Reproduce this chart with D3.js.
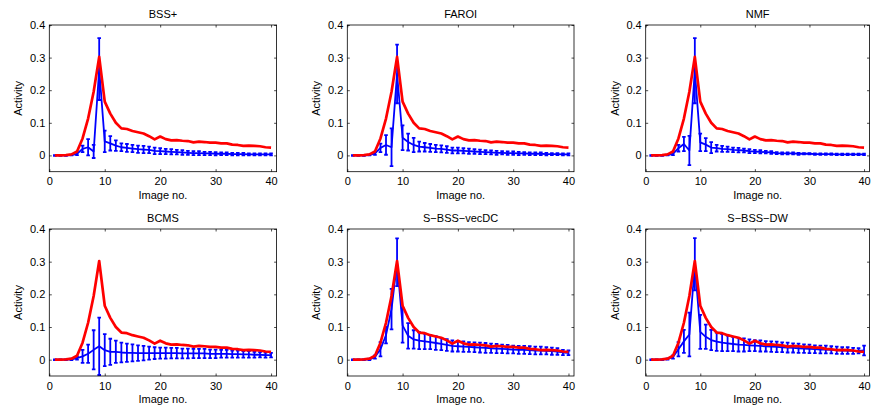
<!DOCTYPE html>
<html>
<head>
<meta charset="utf-8">
<script src="https://cdn.jsdelivr.net/npm/d3@7"></script>
<style>
  body { margin: 0; background: #fff; }
  svg text { font-family: "Liberation Sans", Arial, Helvetica, sans-serif; fill: #000; }
</style>
</head>
<body>
<svg id="chart" width="873" height="410"></svg>
<script>
// image index on the x axis
const imageNo = [1, 2, 3, 4, 5, 6, 7, 8, 9, 10, 11, 12, 13, 14, 15, 16, 17, 18, 19, 20,
    21, 22, 23, 24, 25, 26, 27, 28, 29, 30, 31, 32, 33, 34, 35, 36, 37, 38, 39, 40];

// true activity (red curve, same in every panel)
const truth = [0, 0, 0.001, 0.003, 0.012, 0.052, 0.113, 0.195, 0.302, 0.165, 0.128, 0.1, 0.083, 0.081, 0.075, 0.071, 0.067, 0.059, 0.049, 0.058,
    0.05, 0.046, 0.047, 0.045, 0.044, 0.04, 0.042, 0.041, 0.039, 0.039, 0.037, 0.037, 0.033, 0.032, 0.029, 0.03, 0.029, 0.028, 0.025, 0.024];

const methods = ["BSS+", "FAROI", "NMF", "BCMS", "S\u2212BSS\u2212vecDC", "S\u2212BSS\u2212DW"];

// estimated mean activity per method
const meanBSS = [0, 0, 0, 0.001, 0.005, 0.02, 0.025, 0.012, 0.265, 0.043, 0.037, 0.03, 0.025, 0.023, 0.021, 0.019, 0.018, 0.017, 0.014, 0.013,
    0.012, 0.011, 0.01, 0.009, 0.008, 0.007, 0.007, 0.006, 0.006, 0.005, 0.005, 0.005, 0.004, 0.004, 0.004, 0.003, 0.003, 0.003, 0.003, 0.003];
const meanFAROI = [0, 0, 0, 0.001, 0.006, 0.023, 0.032, 0.025, 0.25, 0.054, 0.041, 0.032, 0.027, 0.025, 0.023, 0.021, 0.02, 0.018, 0.015, 0.015,
    0.014, 0.013, 0.012, 0.011, 0.01, 0.009, 0.008, 0.008, 0.007, 0.007, 0.006, 0.006, 0.005, 0.005, 0.005, 0.004, 0.004, 0.004, 0.003, 0.003];
const meanNMF = [0, 0, 0, 0.001, 0.005, 0.022, 0.035, 0.015, 0.26, 0.04, 0.033, 0.024, 0.022, 0.02, 0.019, 0.017, 0.016, 0.015, 0.013, 0.012,
    0.011, 0.01, 0.009, 0.007, 0.006, 0.006, 0.006, 0.005, 0.005, 0.005, 0.004, 0.004, 0.004, 0.004, 0.003, 0.003, 0.003, 0.003, 0.003, 0.003];
const meanBCMS = [0, 0, 0, 0.001, 0.005, 0.01, 0.018, 0.03, 0.041, 0.029, 0.024, 0.024, 0.022, 0.021, 0.021, 0.02, 0.02, 0.02, 0.02, 0.02,
    0.02, 0.02, 0.02, 0.019, 0.019, 0.019, 0.019, 0.019, 0.018, 0.018, 0.018, 0.018, 0.017, 0.017, 0.016, 0.016, 0.015, 0.015, 0.014, 0.014];
const meanVecDC = [0, 0, 0, 0.001, 0.008, 0.032, 0.075, 0.155, 0.298, 0.105, 0.073, 0.062, 0.058, 0.056, 0.054, 0.051, 0.048, 0.045, 0.042, 0.041,
    0.04, 0.039, 0.038, 0.037, 0.036, 0.035, 0.034, 0.033, 0.032, 0.031, 0.03, 0.03, 0.029, 0.028, 0.028, 0.027, 0.026, 0.025, 0.022, 0.021];
const meanDW = [0, 0, 0, 0.002, 0.008, 0.032, 0.056, 0.077, 0.292, 0.085, 0.07, 0.06, 0.055, 0.052, 0.05, 0.048, 0.046, 0.045, 0.044, 0.043,
    0.042, 0.041, 0.04, 0.039, 0.038, 0.037, 0.036, 0.035, 0.034, 0.033, 0.032, 0.031, 0.031, 0.03, 0.029, 0.028, 0.028, 0.027, 0.027, 0.028];

// estimated error bar half-length per method
const errBSS = [0.001, 0.001, 0.001, 0.001, 0.004, 0.01, 0.025, 0.02, 0.095, 0.033, 0.022, 0.016, 0.012, 0.012, 0.011, 0.011, 0.011, 0.01, 0.01, 0.009,
    0.008, 0.008, 0.007, 0.007, 0.006, 0.006, 0.006, 0.005, 0.005, 0.005, 0.004, 0.004, 0.004, 0.004, 0.004, 0.003, 0.003, 0.003, 0.003, 0.003];
const errFAROI = [0.001, 0.001, 0.001, 0.001, 0.004, 0.013, 0.03, 0.058, 0.09, 0.038, 0.026, 0.022, 0.015, 0.013, 0.012, 0.011, 0.011, 0.01, 0.009, 0.009,
    0.008, 0.008, 0.007, 0.007, 0.006, 0.006, 0.006, 0.005, 0.005, 0.005, 0.005, 0.004, 0.004, 0.004, 0.004, 0.004, 0.003, 0.003, 0.003, 0.003];
const errNMF = [0.001, 0.001, 0.001, 0.001, 0.004, 0.01, 0.022, 0.045, 0.1, 0.027, 0.02, 0.017, 0.01, 0.009, 0.008, 0.007, 0.007, 0.006, 0.006, 0.005,
    0.005, 0.004, 0.004, 0.003, 0.003, 0.003, 0.003, 0.003, 0.002, 0.002, 0.002, 0.002, 0.002, 0.002, 0.002, 0.002, 0.002, 0.002, 0.002, 0.002];
const errBCMS = [0.001, 0.001, 0.001, 0.002, 0.005, 0.02, 0.028, 0.06, 0.088, 0.049, 0.04, 0.034, 0.03, 0.028, 0.026, 0.024, 0.022, 0.02, 0.018, 0.017,
    0.017, 0.016, 0.016, 0.015, 0.015, 0.014, 0.014, 0.014, 0.013, 0.013, 0.012, 0.012, 0.011, 0.011, 0.01, 0.01, 0.009, 0.008, 0.008, 0.007];
const errVecDC = [0.001, 0.001, 0.001, 0.002, 0.005, 0.022, 0.025, 0.062, 0.073, 0.053, 0.039, 0.028, 0.026, 0.024, 0.022, 0.021, 0.019, 0.018, 0.017, 0.016,
    0.016, 0.015, 0.015, 0.015, 0.015, 0.014, 0.014, 0.013, 0.013, 0.012, 0.012, 0.012, 0.012, 0.012, 0.012, 0.011, 0.011, 0.01, 0.008, 0.007];
const errDW = [0.001, 0.001, 0.001, 0.002, 0.005, 0.022, 0.035, 0.067, 0.08, 0.052, 0.037, 0.031, 0.028, 0.026, 0.024, 0.022, 0.021, 0.02, 0.018, 0.017,
    0.017, 0.016, 0.016, 0.016, 0.015, 0.015, 0.014, 0.014, 0.013, 0.013, 0.012, 0.012, 0.012, 0.011, 0.011, 0.01, 0.01, 0.009, 0.008, 0.015];

const means = [meanBSS, meanFAROI, meanNMF, meanBCMS, meanVecDC, meanDW];
const errs = [errBSS, errFAROI, errNMF, errBCMS, errVecDC, errDW];

const xTicks = [0, 10, 20, 30, 40];
const yTicks = [0, 0.1, 0.2, 0.3, 0.4];

const colLeft = [49.3, 347.3, 645.7];
const colRight = [276.6, 574, 869.5];
const rowTop = [25, 229];
const rowBottom = [171.7, 376];

const svg = d3.select('#chart');

methods.forEach((name, k) => {
    const col = k % 3, row = Math.floor(k / 3);
    const left = colLeft[col], top = rowTop[row];
    const width = colRight[col] - left;
    const height = rowBottom[row] - top;

    const g = svg.append('g')
        .attr('transform', `translate(${left},${top})`);

    const xScale = d3.scaleLinear().domain([0, 41]).range([0, width]);
    const yScale = d3.scaleLinear().domain([-0.05, 0.4]).range([height, 0]);

    const tickLen = 2.5;

    // axes, ticks pointing inward like matlab
    const bottomAxis = g.append('g')
        .attr('transform', `translate(0,${height})`)
        .call(d3.axisBottom(xScale).tickValues(xTicks).tickSize(-tickLen).tickPadding(6).tickFormat(d3.format('d')));
    const topAxis = g.append('g')
        .call(d3.axisTop(xScale).tickValues(xTicks).tickSize(-tickLen).tickFormat(''));
    const leftAxis = g.append('g')
        .call(d3.axisLeft(yScale).tickValues(yTicks).tickSize(-tickLen).tickPadding(4).tickFormat(d => d === 0 ? '0' : d3.format('.1f')(d)));
    const rightAxis = g.append('g')
        .attr('transform', `translate(${width},0)`)
        .call(d3.axisRight(yScale).tickValues(yTicks).tickSize(-tickLen).tickFormat(''));

    [bottomAxis, topAxis, leftAxis, rightAxis].forEach(a => {
        a.select('.domain').remove();
        a.selectAll('.tick line').attr('stroke', '#000').attr('stroke-width', 0.7);
        a.selectAll('text').style('font-size', '11px').attr('fill', '#000');
    });

    // blue estimate with error bars
    const data = imageNo.map((x, i) => ({ x: x, y: means[k][i], e: errs[k][i] }));

    const bars = g.append('g')
        .attr('stroke', '#0000ff')
        .attr('stroke-width', 1.8)
        .attr('fill', 'none');

    bars.selectAll('path')
        .data(data)
        .join('path')
        .attr('d', d => {
            const cx = xScale(d.x);
            const y0 = yScale(d.y - d.e), y1 = yScale(d.y + d.e);
            const cap = 1.8;
            return `M${cx},${y0}V${y1}M${cx - cap},${y0}H${cx + cap}M${cx - cap},${y1}H${cx + cap}`;
        });

    const line = d3.line()
        .x(d => xScale(d.x))
        .y(d => yScale(d.y));

    g.append('path')
        .datum(data)
        .attr('fill', 'none')
        .attr('stroke', '#0000ff')
        .attr('stroke-width', 1.8)
        .attr('stroke-linejoin', 'round')
        .attr('d', line);

    // red true curve on top
    g.append('path')
        .datum(imageNo.map((x, i) => ({ x: x, y: truth[i] })))
        .attr('fill', 'none')
        .attr('stroke', '#ff0000')
        .attr('stroke-width', 2.7)
        .attr('stroke-linejoin', 'round')
        .attr('d', line);

    // box
    g.append('rect')
        .attr('width', width)
        .attr('height', height)
        .attr('fill', 'none')
        .attr('stroke', '#000')
        .attr('stroke-width', 0.8);

    g.append('text')
        .attr('x', width / 2)
        .attr('y', -7)
        .attr('text-anchor', 'middle')
        .style('font-size', '11px')
        .text(name);

    g.append('text')
        .attr('x', width / 2)
        .attr('y', height + 27)
        .attr('text-anchor', 'middle')
        .style('font-size', '11px')
        .text('Image no.');

    g.append('text')
        .attr('transform', `translate(-27,${height / 2}) rotate(-90)`)
        .attr('text-anchor', 'middle')
        .style('font-size', '11px')
        .text('Activity');
});
</script>
</body>
</html>
